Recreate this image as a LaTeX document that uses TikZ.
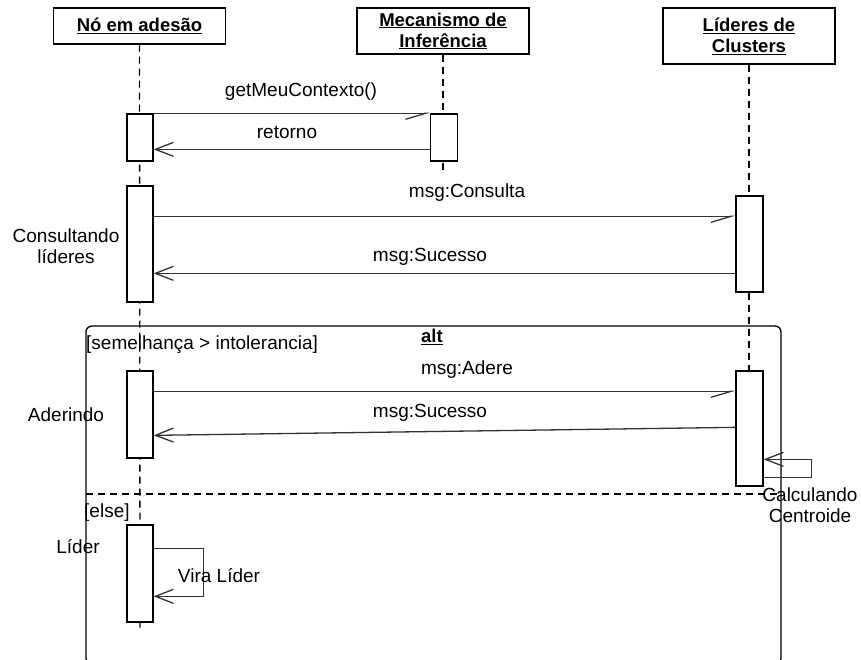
\documentclass[tikz,border=0pt]{standalone}
\usepackage{fontspec}
\setmainfont{Liberation Sans}
\usetikzlibrary{arrows.meta}
\begin{document}
\begin{tikzpicture}[x=1pt,y=-1pt,
  lbl/.style={font=\fontsize{19}{21}\selectfont, inner sep=0pt, align=center},
  head/.style={draw, line width=1.3pt, fill=white, minimum width=172pt,
    font=\fontsize{18.5}{21}\selectfont\bfseries, align=center, inner sep=0pt},
  act/.style={draw, line width=1.3pt, fill=white, minimum width=26pt, inner sep=0pt},
  life/.style={line width=1.3pt, dash pattern=on 7pt off 5pt},
  call/.style={line width=1.3pt, draw=black!80,
    -{Straight Barb[harpoon,swap,length=20pt,width=12pt]}},
  ret/.style={line width=1.3pt, draw=black!80,
    -{Straight Barb[length=18pt,width=14pt]}},
  frame/.style={line width=1.3pt, rounded corners=6pt},
]
\useasboundingbox (0,0) rectangle (861,659);
\clip (0,0) rectangle (861,659);

% combined fragment "alt"
\coordinate (fNW) at (86,326);
\coordinate (fSE) at (781,664);
\draw[frame] (fNW) rectangle (fSE);
\coordinate (sepL) at (86,494);
\coordinate (sepR) at (781,494);
\draw[life] (sepL) -- (sepR);
\node[lbl, font=\fontsize{18.5}{21}\selectfont\bfseries] (alt) at (432,337) {\underline{alt}};
\node[lbl, anchor=west] (g1) at (86,345) {[semelhança > intolerancia]};
\node[lbl, anchor=west] (g2) at (84,513) {[else]};

% lifeline heads
\node[head, minimum height=36pt] (no) at (139.5,26) {\underline{Nó em adesão}};
\node[head, minimum height=46pt] (mi) at (443,31) {\underline{Mecanismo de}\\\underline{Inferência}};
\node[head, minimum height=56pt] (lc) at (749,36) {\underline{Líderes de}\\\underline{Clusters}};

% lifelines
\coordinate (noEnd) at (140,628);
\coordinate (miEnd) at (443,172);
\coordinate (lcEnd) at (749,486);
\draw[life] (no.south) -- (noEnd);
\draw[life] (mi.south) -- (miEnd);
\draw[life] (lc.south) -- (lcEnd);

% activation bars
\node[act, minimum height=47pt]  (a1) at (140,137.5) {};
\node[act, minimum height=47pt, minimum width=27pt] (m1) at (444,137.5) {};
\node[act, minimum height=116pt] (a2) at (140,244) {};
\node[act, minimum height=96pt, minimum width=27pt]  (l1) at (749.5,244) {};
\node[act, minimum height=87pt]  (a3) at (140,414.5) {};
\node[act, minimum height=115pt, minimum width=27pt] (l2) at (749.5,428.5) {};
\node[act, minimum height=97pt]  (a4) at (140,573.5) {};

% messages
\draw[call] (a1.north east) -- (m1.north west);
\node[lbl] (t1) at (301,92) {getMeuContexto()};
\draw[ret] ([yshift=-36pt]m1.north west) -- ([yshift=-36pt]a1.north east);
\node[lbl] (t2) at (287,132) {retorno};

\draw[call] ([yshift=-31pt]a2.north east) -- ([yshift=-21pt]l1.north west);
\node[lbl] (t3) at (467,193) {msg:Consulta};
\draw[ret] ([yshift=-78pt]l1.north west) -- ([yshift=-88pt]a2.north east);
\node[lbl] (t4) at (430,257) {msg:Sucesso};

\draw[call] ([yshift=-21pt]a3.north east) -- ([yshift=-21pt]l2.north west);
\node[lbl] (t5) at (467,370) {msg:Adere};
\draw[ret] ([yshift=-57pt]l2.north west) -- ([yshift=-65pt]a3.north east);
\node[lbl] (t6) at (430,413) {msg:Sucesso};

% self messages
\draw[ret] ([yshift=-107pt]l2.north east) -- ++(48,0) -- ++(0,-18) -- ([yshift=-89pt]l2.north east);
\node[lbl] (t7) at (810,505) {Calculando\\Centroide};
\draw[ret] ([yshift=-24pt]a4.north east) -- ++(50,0) -- ++(0,48) -- ([yshift=-72pt]a4.north east);
\node[lbl] (t8) at (219,576) {Vira Líder};

% state labels
\node[lbl] (s1a) at (66,236) {Consultando};
\node[lbl] (s1b) at (66,257) {líderes};
\node[lbl] (s2) at (66,415) {Aderindo};
\node[lbl] (s3) at (78,547) {Líder};
\end{tikzpicture}
\end{document}
